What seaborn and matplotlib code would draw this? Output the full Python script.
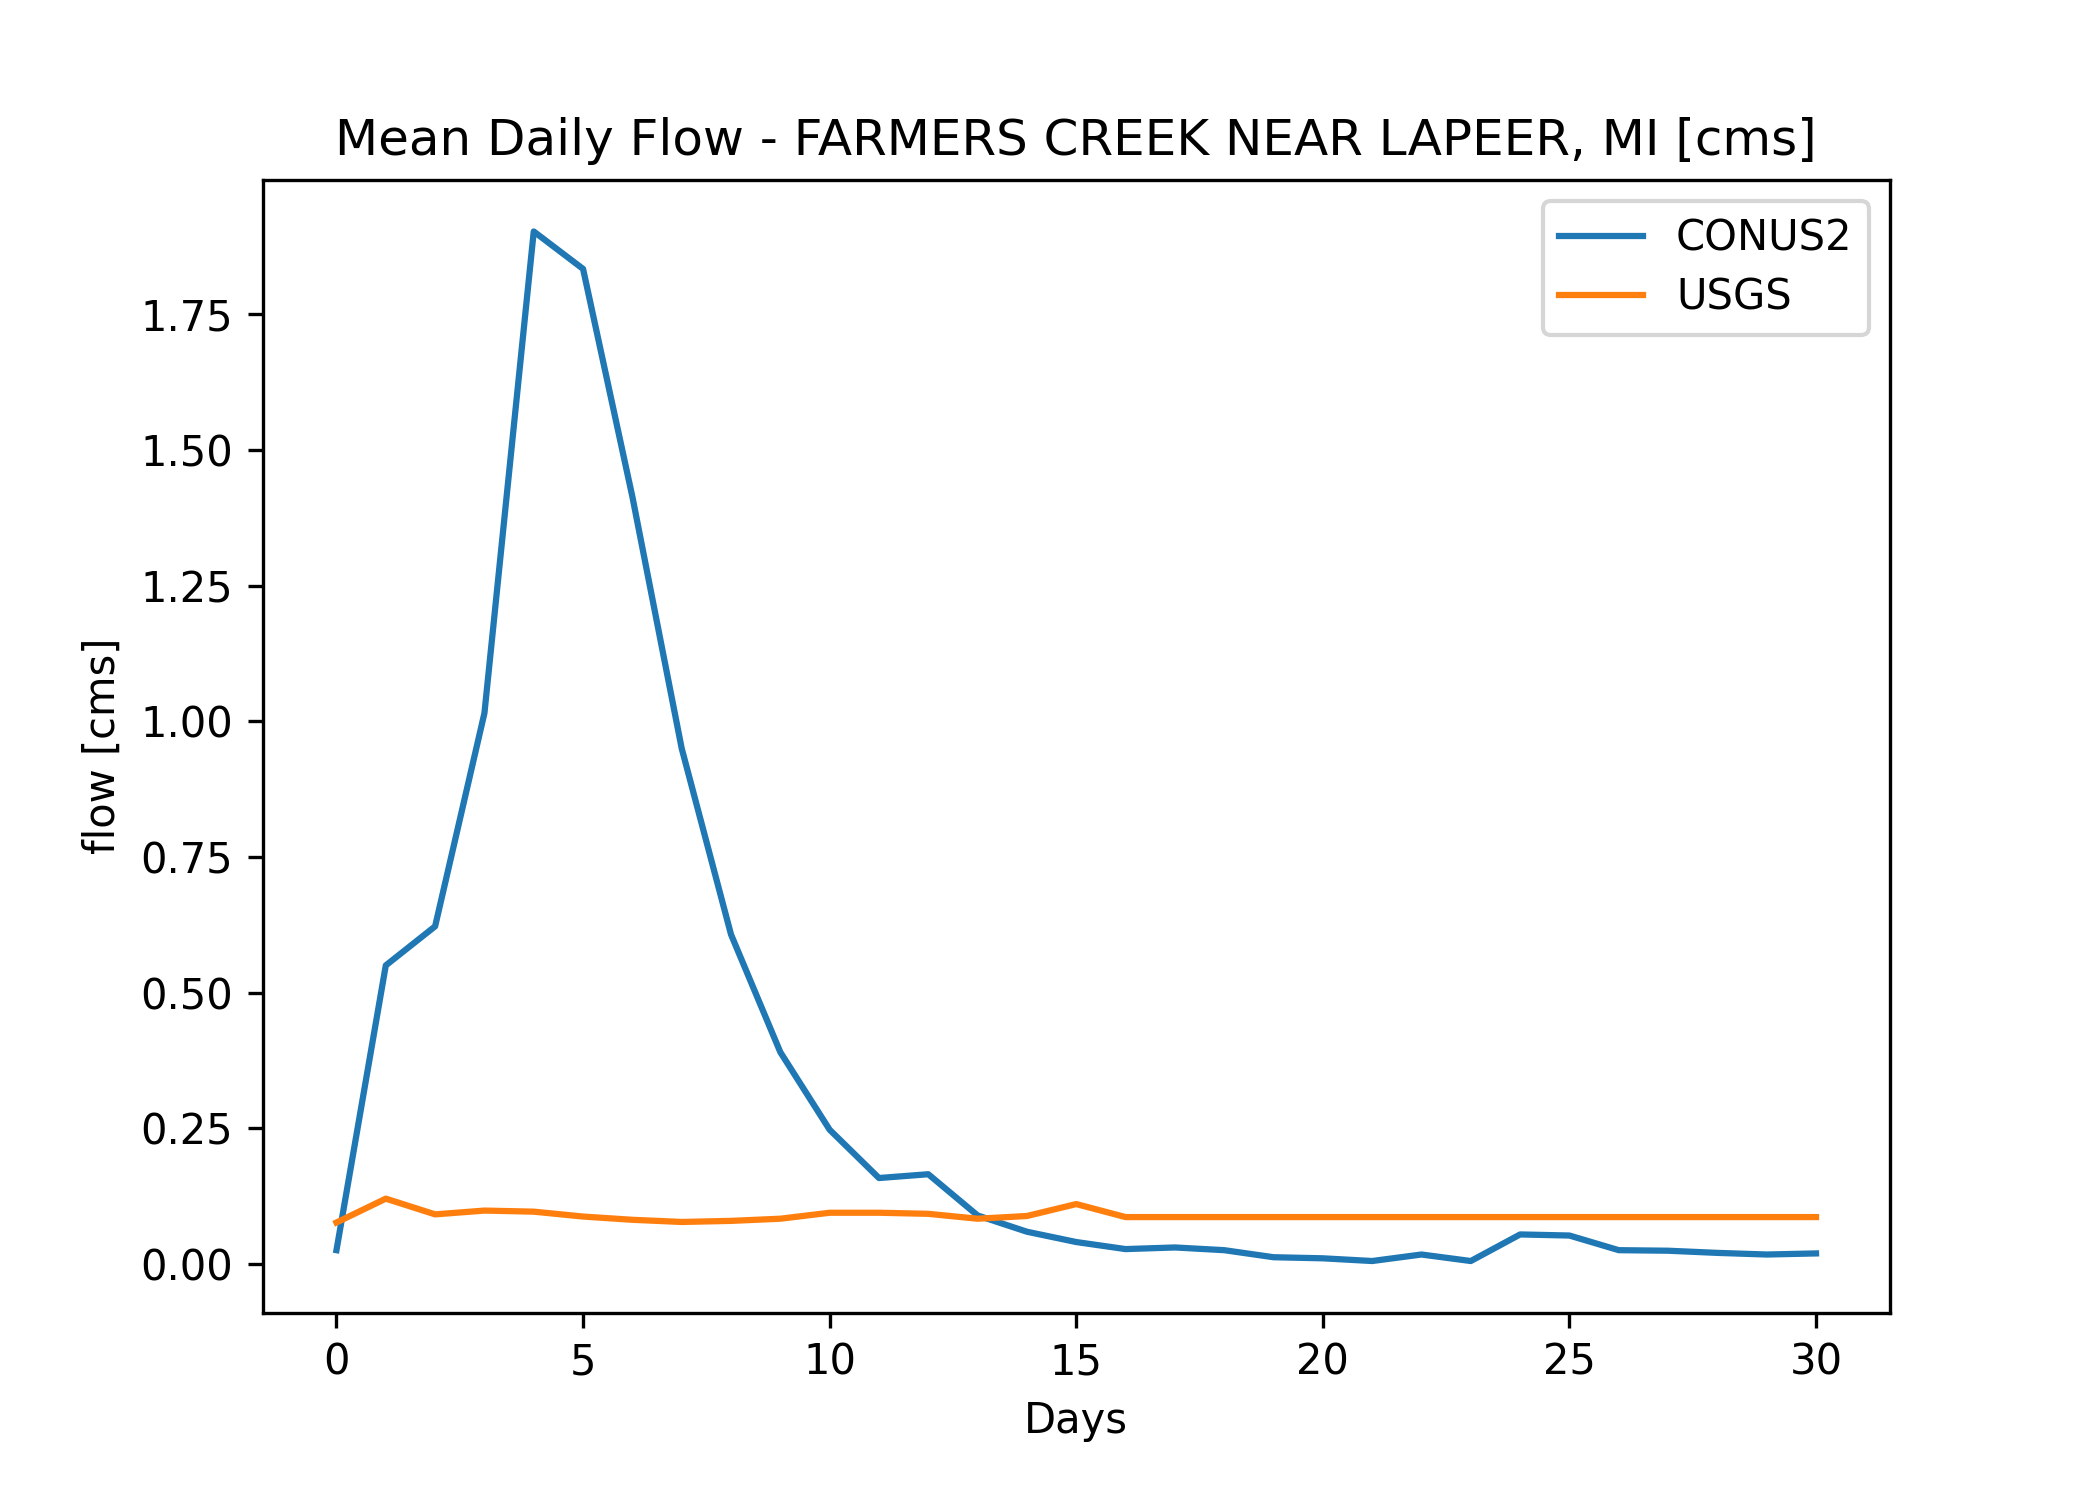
import numpy as np
import pandas as pd
import matplotlib
matplotlib.use("Agg")
import matplotlib.pyplot as plt
import seaborn as sns

days = list(range(31))

conus2 = [0.025, 0.55, 0.622, 1.015, 1.903, 1.834, 1.414, 0.95, 0.607, 0.39,
          0.247, 0.158, 0.165, 0.089, 0.059, 0.04, 0.027, 0.03, 0.025, 0.012,
          0.01, 0.005, 0.017, 0.005, 0.054, 0.052, 0.025, 0.024, 0.02, 0.017,
          0.019]

usgs = [0.076, 0.12, 0.091, 0.098, 0.096, 0.087, 0.081, 0.077, 0.079, 0.083,
        0.094, 0.094, 0.092, 0.083, 0.088, 0.11, 0.086, 0.086, 0.086, 0.086,
        0.086, 0.086, 0.086, 0.086, 0.086, 0.086, 0.086, 0.086, 0.086, 0.086,
        0.086]

df = pd.DataFrame({
    'Days': days * 2,
    'flow': conus2 + usgs,
    'source': ['CONUS2'] * len(days) + ['USGS'] * len(days),
})

fig, ax = plt.subplots(figsize=(7, 5))
fig.subplots_adjust(bottom=0.125, top=0.88)
sns.lineplot(data=df, x='Days', y='flow', hue='source',
             palette=['#1f77b4', '#ff7f0e'], ax=ax)

ax.set_title('Mean Daily Flow - FARMERS CREEK NEAR LAPEER, MI [cms]')
ax.set_xlabel('Days')
ax.set_ylabel('flow [cms]')
ax.legend(title=None, loc='upper right', labelspacing=0.4)

plt.savefig('out.png', dpi=300)
plt.close()
